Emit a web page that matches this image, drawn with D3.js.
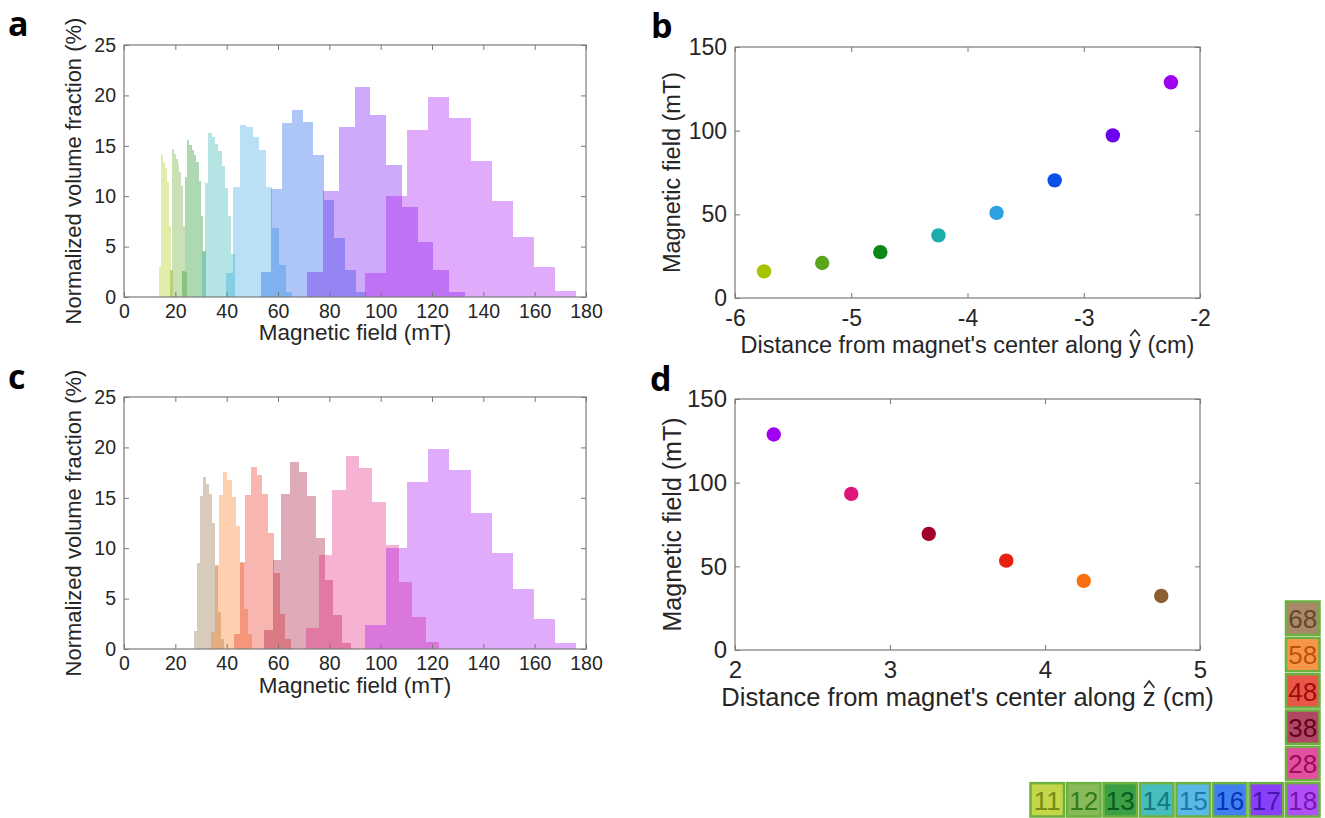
<!DOCTYPE html>
<html><head><meta charset="utf-8">
<script src="https://cdn.jsdelivr.net/npm/d3@7"></script>
<style>body{margin:0;background:#fff}svg{display:block}</style>
</head><body>
<svg id="fig" width="1325" height="818"></svg>
<script>
// ---------------- DATA ----------------
const fieldTicks = [0, 20, 40, 60, 80, 100, 120, 140, 160, 180];
const fracTicks = [0, 5, 10, 15, 20, 25];
const fieldTicksScatter = [0, 50, 100, 150];
const distYTicks = [-6, -5, -4, -3, -2];
const distZTicks = [2, 3, 4, 5];

// panel a: histograms for positions 11..18 (bin start / width in mT, heights in %)
const posY = ["11", "12", "13", "14", "15", "16", "17", "18"];
const binStartY = [13.64, 17.92, 22.68, 30.27, 39.86, 53.3, 71.4, 93.8];
const binWidthY = [0.78, 0.74, 0.92, 1.29, 2.57, 4.1, 6.14, 8.24];
const hist11 = [3.0, 14.1, 13.4, 12.8, 11.4, 7.0, 2.7];
const hist12 = [2.7, 14.7, 14.2, 13.7, 13.1, 12.4, 11.0, 7.0, 2.5];
const hist13 = [2.6, 11.9, 15.6, 15.1, 14.6, 14.1, 13.4, 11.5, 8.0, 4.6];
const hist14 = [4.5, 11.3, 16.3, 15.9, 15.2, 14.5, 13.0, 10.8, 8.0, 4.3];
const hist15 = [2.4, 10.9, 17.1, 16.9, 15.9, 14.6, 10.9, 6.8, 3.2, 0.5];
const hist16 = [2.5, 10.7, 17.3, 18.6, 17.4, 14.1, 9.6, 5.9, 2.7, 0.5];
const hist17 = [2.5, 10.5, 16.9, 20.8, 18.1, 13.1, 8.9, 5.5, 2.7, 0.5];
const hist18 = [2.4, 10.0, 16.6, 19.8, 17.8, 13.5, 9.5, 6.0, 3.0, 0.6];

// panel c: histograms for positions 68..18
const posZ = ["68", "58", "48", "38", "28", "18"];
const binStartZ = [27.27, 33.9, 42.86, 54.5, 70.8, 93.8];
const binWidthZ = [1.17, 1.6, 2.22, 3.38, 5.19, 8.24];
const hist68 = [1.8, 8.5, 15.2, 17.1, 16.4, 15.4, 12.5, 8.2, 3.7, 1.0];
const hist58 = [1.7, 8.3, 15.3, 17.6, 16.8, 15.1, 12.2, 8.5, 4.0, 1.5];
const hist48 = [1.5, 8.6, 15.3, 18.1, 17.3, 15.4, 11.5, 7.5, 3.5, 1.0];
const hist38 = [1.9, 8.8, 15.4, 18.6, 17.6, 15.2, 11.0, 6.8, 3.4, 0.6];
const hist28 = [2.05, 9.3, 15.8, 19.1, 18.0, 14.6, 10.3, 6.6, 3.2, 0.7];

// panel b: field vs distance along y
const distY = [-5.75, -5.25, -4.75, -4.25, -3.75, -3.25, -2.75, -2.25];
const fieldY = [15.9, 20.9, 27.4, 37.4, 50.9, 70.3, 97.2, 128.9];
// panel d: field vs distance along z (positions 18, 28, 38, 48, 58, 68)
const distZ = [2.25, 2.75, 3.25, 3.75, 4.25, 4.75];
const fieldZ = [128.8, 93.3, 69.4, 53.4, 41.3, 32.3];

// legend grid labels
const legendRow = ["11", "12", "13", "14", "15", "16", "17", "18"];
const legendCol = ["68", "58", "48", "38", "28", "18"];

// ---------------- STYLE ----------------
const colorsY = ["#a8c400", "#5aa51e", "#0a8a14", "#1aadaa", "#2ca0e0", "#0a50e6", "#6a00f0", "#a000f0"];
const colorsZ = ["#8a6030", "#f87010", "#e82010", "#a0002a", "#e0157a", "#a000f0"];
const colorsDots = ["#a000f0", "#e0157a", "#a0002a", "#e82010", "#f87010", "#8a6030"];
const legendFill = {"11":"#c4d64a","12":"#88ba58","13":"#3aa046","14":"#46bebe","15":"#5ab9e6",
  "16":"#4080f0","17":"#8840f8","18":"#b050f8","28":"#e250a0","38":"#b04864","48":"#e85848","58":"#f89648","68":"#a88868"};
const legendText = {"11":"#788c14","12":"#327a1e","13":"#0a5a1e","14":"#147882","15":"#1e78aa","16":"#0a32b4",
  "17":"#4614b4","18":"#7814b4","28":"#a00a5a","38":"#64001e","48":"#a00a0a","58":"#be500a","68":"#644628"};

const FONT = "'Liberation Sans', Arial, Helvetica, sans-serif";
const LINE = "#7a7a7a", TXT = "#262626";
const svg = d3.select("#fig");

function axesFrame(g, x, y, xTicks, yTicks, o) {
  const [xl, xr] = x.range();
  const [yb, yt] = y.range();
  const fmt = d => String(d);
  const bottom = g.append("g").attr("transform", `translate(0,${yb})`)
    .call(d3.axisBottom(x).tickValues(xTicks).tickSize(-5).tickFormat(fmt));
  bottom.selectAll("text").attr("dy", null).attr("y", o.xBase);
  const left = g.append("g").attr("transform", `translate(${xl},0)`)
    .call(d3.axisLeft(y).tickValues(yTicks).tickSize(-5).tickPadding(o.yPad).tickFormat(fmt));
  const top = g.append("g").attr("transform", `translate(0,${yt})`)
    .call(d3.axisTop(x).tickValues(xTicks).tickSize(-5).tickFormat(""));
  const right = g.append("g").attr("transform", `translate(${xr},0)`)
    .call(d3.axisRight(y).tickValues(yTicks).tickSize(-5).tickFormat(""));
  [bottom, left, top, right].forEach(a => {
    a.select(".domain").remove();
    a.selectAll("line").attr("stroke", LINE).attr("stroke-width", 1);
    a.selectAll("text").attr("fill", TXT).attr("font-family", FONT).attr("font-size", o.tickFs);
  });
  g.append("rect").attr("x", xl).attr("y", yt).attr("width", xr - xl).attr("height", yb - yt)
    .attr("fill", "none").attr("stroke", LINE).attr("stroke-width", 1.2);
  // x label
  const base = yb + o.xLabBase;
  const xt = g.append("text").attr("x", (xl + xr) / 2).attr("y", base)
    .attr("text-anchor", "middle").attr("font-family", FONT).attr("font-size", o.labFs)
    .attr("fill", TXT).text(o.xLabel);
  if (o.hatChar) {
    const idx = o.xLabel.indexOf(o.hatChar);
    const p = xt.node().getStartPositionOfChar(idx);
    const w = xt.node().getSubStringLength(idx, 1);
    const cx = p.x + w / 2, fs = o.labFs;
    const hat = d3.path();
    hat.moveTo(cx - 0.2 * fs, base - 0.72 * fs);
    hat.lineTo(cx, base - 0.98 * fs);
    hat.lineTo(cx + 0.2 * fs, base - 0.72 * fs);
    g.append("path").attr("d", hat.toString()).attr("fill", "none")
      .attr("stroke", TXT).attr("stroke-width", 1.6).attr("stroke-linejoin", "miter");
  }
  // y label
  g.append("text").attr("transform", `translate(${o.yLabX},${(yt + yb) / 2}) rotate(-90)`)
    .attr("text-anchor", "middle").attr("dominant-baseline", "central")
    .attr("font-family", FONT).attr("font-size", o.yLabFs || o.labFs).attr("fill", TXT).text(o.yLabel);
}

function drawHists(g, x, y, starts, widths, hists, colors) {
  hists.forEach((h, i) => {
    const p = d3.path();
    const x0 = starts[i], w = widths[i];
    p.moveTo(x(x0), y(0));
    h.forEach((v, k) => {
      p.lineTo(x(x0 + k * w), y(v));
      p.lineTo(x(x0 + (k + 1) * w), y(v));
    });
    p.lineTo(x(x0 + h.length * w), y(0));
    p.closePath();
    g.append("path").attr("d", p.toString()).attr("fill", colors[i])
      .attr("fill-opacity", 0.33).attr("stroke", "none").attr("shape-rendering", "crispEdges");
  });
}

function panelLetter(t, x, y) {
  svg.append("text").attr("x", x).attr("y", y).attr("font-family", "'Open Sans', 'Noto Sans', sans-serif")
    .attr("font-weight", "bold").attr("font-size", 34).attr("fill", "#000").text(t);
}

// ---- panel a ----
const xA = d3.scaleLinear().domain([0, 180]).range([124, 586]);
const yA = d3.scaleLinear().domain([0, 25]).range([297, 45]);
const gA = svg.append("g");
drawHists(gA, xA, yA, binStartY, binWidthY, [hist11, hist12, hist13, hist14, hist15, hist16, hist17, hist18], colorsY);
axesFrame(gA, xA, yA, fieldTicks, fracTicks, {xBase: 21, yPad: 8, tickFs: 19.5, labFs: 22.5, yLabFs: 22,
  xLabBase: 43, yLabX: 73, xLabel: "Magnetic field (mT)", yLabel: "Normalized volume fraction (%)"});

// ---- panel c ----
const xC = d3.scaleLinear().domain([0, 180]).range([124, 586]);
const yC = d3.scaleLinear().domain([0, 25]).range([649, 397]);
const gC = svg.append("g");
drawHists(gC, xC, yC, binStartZ, binWidthZ, [hist68, hist58, hist48, hist38, hist28, hist18], colorsZ);
axesFrame(gC, xC, yC, fieldTicks, fracTicks, {xBase: 21, yPad: 8, tickFs: 19.5, labFs: 22.5, yLabFs: 22,
  xLabBase: 44, yLabX: 73, xLabel: "Magnetic field (mT)", yLabel: "Normalized volume fraction (%)"});

// ---- panel b ----
const xB = d3.scaleLinear().domain([-6, -2]).range([735, 1200]);
const yB = d3.scaleLinear().domain([0, 150]).range([298, 47]);
const gB = svg.append("g");
axesFrame(gB, xB, yB, distYTicks, fieldTicksScatter, {xBase: 28, yPad: 8, tickFs: 23, labFs: 23.5,
  xLabBase: 55, yLabX: 672, xLabel: "Distance from magnet's center along y (cm)", hatChar: "y",
  yLabel: "Magnetic field (mT)"});
gB.selectAll("circle.pt").data(distY).join("circle").attr("class", "pt")
  .attr("cx", d => xB(d)).attr("cy", (d, i) => yB(fieldY[i])).attr("r", 7.2)
  .attr("fill", (d, i) => colorsY[i]);

// ---- panel d ----
const xD = d3.scaleLinear().domain([2, 5]).range([735, 1200]);
const yD = d3.scaleLinear().domain([0, 150]).range([650, 399]);
const gD = svg.append("g");
axesFrame(gD, xD, yD, distZTicks, fieldTicksScatter, {xBase: 28, yPad: 8, tickFs: 24, labFs: 25.5,
  xLabBase: 56, yLabX: 672, xLabel: "Distance from magnet's center along z (cm)", hatChar: "z",
  yLabel: "Magnetic field (mT)", yLabFs: 25});
gD.selectAll("circle.pt").data(distZ).join("circle").attr("class", "pt")
  .attr("cx", d => xD(d)).attr("cy", (d, i) => yD(fieldZ[i])).attr("r", 7.2)
  .attr("fill", (d, i) => colorsDots[i]);

// ---- panel letters ----
panelLetter("a", 8, 36);
panelLetter("b", 651, 38);
panelLetter("c", 8, 389);
panelLetter("d", 650, 391);

// ---- position legend ----
const bandRow = d3.scaleBand().domain(legendRow).range([1029, 1321]);
const bandCol = d3.scaleBand().domain(legendCol).range([600, 818]);
const cells = legendRow.map(k => ({k, x: bandRow(k), y: bandCol("18")}))
  .concat(legendCol.filter(k => k !== "18").map(k => ({k, x: bandRow("18"), y: bandCol(k)})));
const gL = svg.append("g");
const cw = bandRow.bandwidth(), ch = bandCol.bandwidth();
const cell = gL.selectAll("g").data(cells).join("g").attr("transform", d => `translate(${d.x},${d.y})`);
cell.append("rect").attr("x", 1.5).attr("y", 1.5).attr("width", cw - 3).attr("height", ch - 3)
  .attr("fill", d => legendFill[d.k]).attr("stroke", "#6cb03e").attr("stroke-width", 2.5);
cell.append("text").attr("x", cw / 2).attr("y", ch / 2 + 1).attr("text-anchor", "middle")
  .attr("dominant-baseline", "central").attr("font-family", FONT).attr("font-size", 26)
  .attr("fill", d => legendText[d.k]).text(d => d.k);
</script>
</body></html>
